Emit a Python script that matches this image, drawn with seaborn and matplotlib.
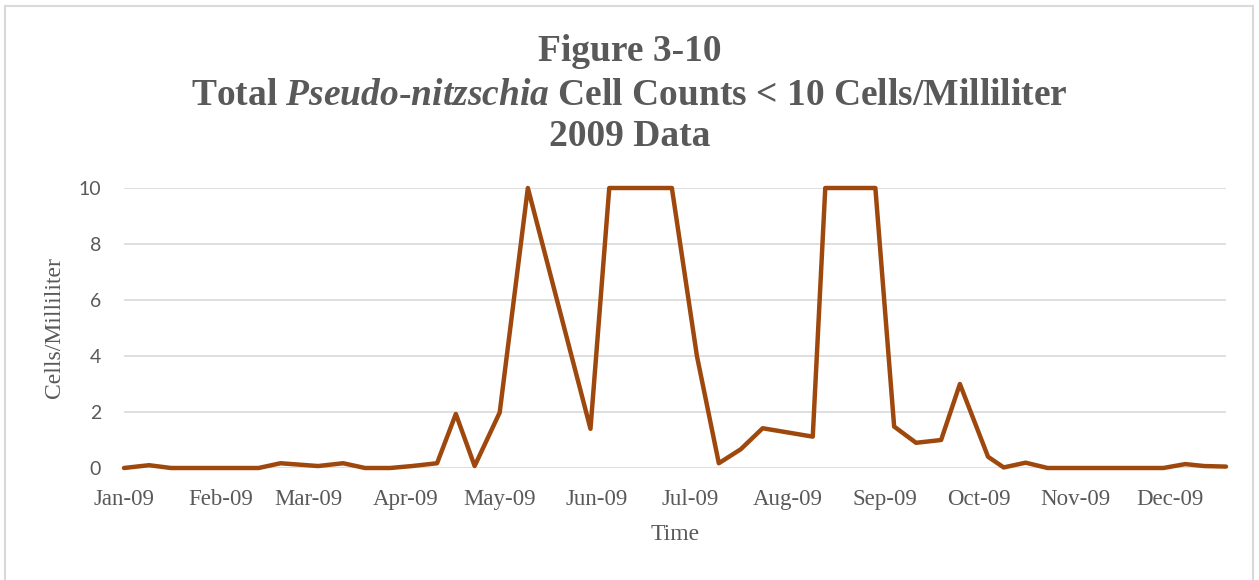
import matplotlib
matplotlib.use('Agg')
import matplotlib.pyplot as plt
import matplotlib.dates as mdates
from matplotlib.patches import Rectangle
import seaborn as sns
import pandas as pd

# sampling dates and total Pseudo-nitzschia counts (cells/mL), 2009
sample_dates = ['2009-01-01', '2009-01-09', '2009-01-16', '2009-01-23', '2009-01-30',
                '2009-02-06', '2009-02-13', '2009-02-20', '2009-03-04', '2009-03-12',
                '2009-03-19', '2009-03-27', '2009-04-03', '2009-04-11', '2009-04-17',
                '2009-04-23', '2009-05-01', '2009-05-10', '2009-05-30', '2009-06-05',
                '2009-06-15', '2009-06-25', '2009-07-03', '2009-07-10', '2009-07-17',
                '2009-07-24', '2009-08-09', '2009-08-13', '2009-08-21', '2009-08-29',
                '2009-09-04', '2009-09-11', '2009-09-19', '2009-09-25', '2009-10-04',
                '2009-10-09', '2009-10-16', '2009-10-23', '2009-10-29', '2009-11-05',
                '2009-11-12', '2009-11-19', '2009-11-29', '2009-12-06', '2009-12-12',
                '2009-12-19']
cell_counts = [0.0, 0.1, 0.0, 0.0, 0.0,
               0.0, 0.0, 0.17, 0.07, 0.17,
               0.0, 0.0, 0.07, 0.17, 1.93,
               0.07, 1.98, 10.0, 1.4, 14.3,
               15.0, 14.4, 4.0, 0.17, 0.67,
               1.42, 1.12, 12.9, 20.0, 13.8,
               1.48, 0.9, 1.0, 3.0, 0.4,
               0.02, 0.19, 0.0, 0.0, 0.0,
               0.0, 0.0, 0.0, 0.14, 0.07,
               0.05]
y_ticks = [0, 2, 4, 6, 8, 10]
y_max = 10

df = pd.DataFrame({'date': pd.to_datetime(sample_dates), 'cells': cell_counts})

sns.set_style('white')
plt.rcParams['mathtext.fontset'] = 'custom'
plt.rcParams['mathtext.it'] = 'Liberation Serif:italic:bold'
plt.rcParams['mathtext.rm'] = 'Liberation Serif:bold'

gray = '#595959'
line_color = '#9E480E'

fig = plt.figure(figsize=(12.59, 5.8), dpi=100)
ax = fig.add_axes([124 / 1259, 1 - 468 / 580, 1102 / 1259, 280 / 580])

# the axis is capped at 10 cells/mL, so counts above it run along the top edge
df_shown = df.assign(cells=df['cells'].clip(upper=y_max))
sns.lineplot(data=df_shown, x='date', y='cells', color=line_color, linewidth=3.2, ax=ax)
line = ax.lines[0]
line.set_solid_joinstyle('round')
line.set_solid_capstyle('round')
line.set_clip_on(False)

ax.set_ylim(0, y_max)
ax.set_xlim(df['date'].min(), df['date'].max())
ax.set_yticks(y_ticks)
ax.xaxis.set_major_locator(mdates.MonthLocator())
ax.xaxis.set_major_formatter(mdates.DateFormatter('%b-%y'))

ax.grid(axis='y', color='#D9D9D9', linewidth=1.2)
ax.grid(axis='x', visible=False)
ax.set_axisbelow(True)
for s in ax.spines.values():
    s.set_visible(False)

ax.tick_params(axis='y', length=0, pad=16.5, labelsize=14, labelcolor=gray)
ax.tick_params(axis='x', length=0, pad=15, labelsize=16.5, labelcolor=gray)
for lab in ax.get_yticklabels():
    lab.set_fontfamily('Lato')
for lab in ax.get_xticklabels():
    lab.set_fontfamily('Liberation Serif')

ax.set_xlabel('Time', fontsize=17, color=gray, family='Liberation Serif')
ax.xaxis.label.set_va('center')
ax.xaxis.set_label_coords(0.5, -0.237)
ax.set_ylabel('Cells/Milliliter', fontsize=17, color=gray, family='Liberation Serif')
ax.yaxis.label.set_va('center')
ax.yaxis.set_label_coords(-0.063, 0.5)

title_kw = dict(ha='center', va='baseline', fontsize=27, fontweight='bold',
                color=gray, family='Liberation Serif')
fig.text(0.5, 1 - 61 / 580, 'Figure 3-10', **title_kw)
fig.text(0.5, 1 - 105 / 580,
         r'Total $\mathit{Pseudo}$-$\mathit{nitzschia}$ Cell Counts < 10 Cells/Milliliter',
         **title_kw)
fig.text(0.5, 1 - 146 / 580, '2009 Data', **title_kw)

# light chart-area border
fig.patches.append(Rectangle((5 / 1259, -0.05), 1248 / 1259, 1.05 - 6 / 580,
                             transform=fig.transFigure, fill=False,
                             edgecolor='#D9D9D9', linewidth=1.5))

fig.savefig('out.png', dpi=100)
